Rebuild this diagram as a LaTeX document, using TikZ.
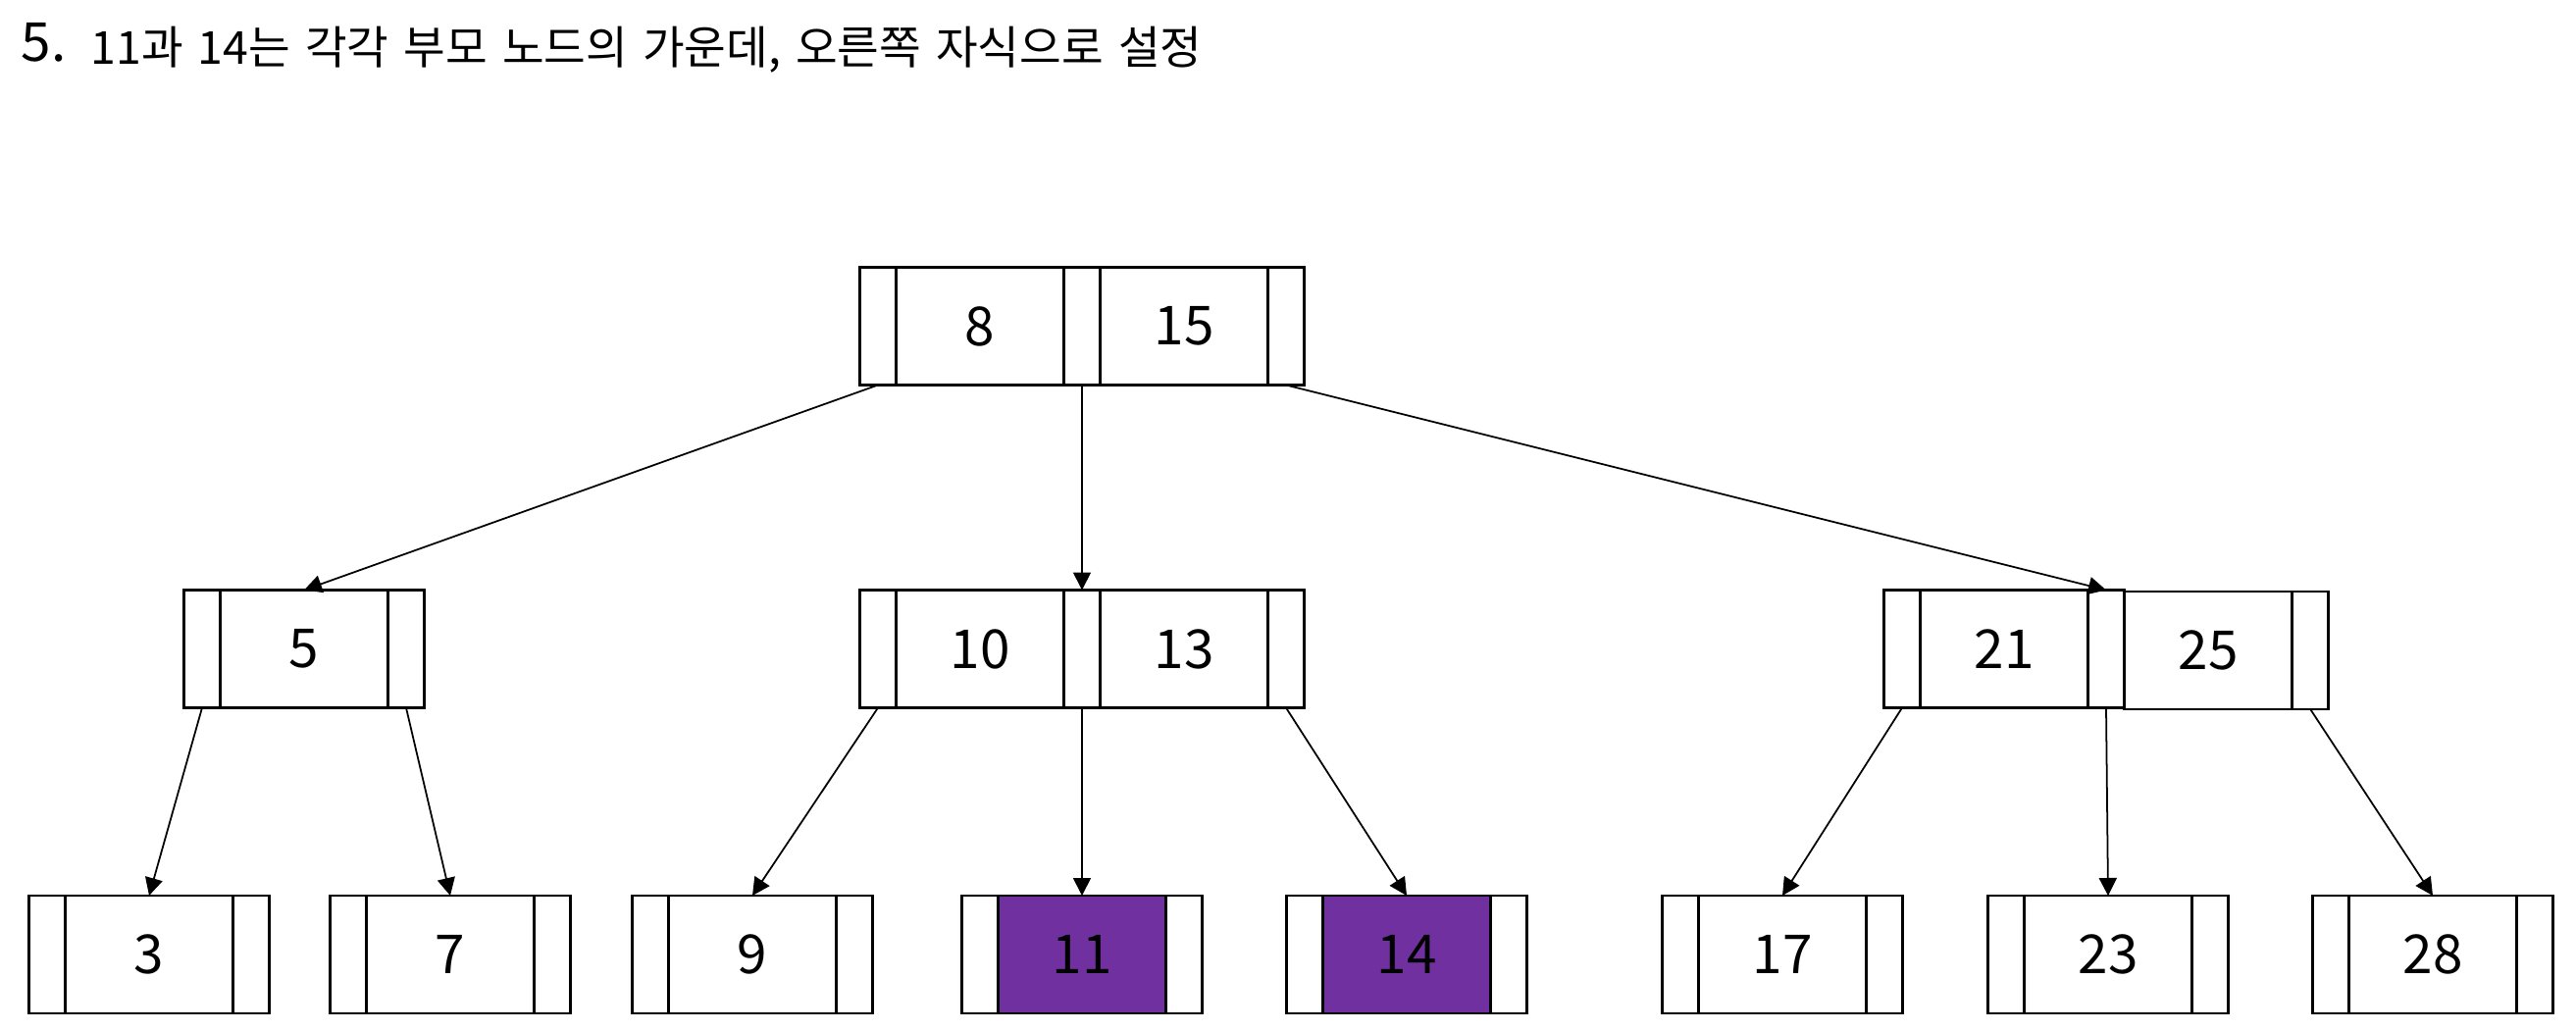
\documentclass[tikz,border=0pt]{standalone}
\usepackage{fontspec}
\setmainfont{Noto Sans CJK KR}
\newfontfamily\headfont{Noto Sans CJK KR}[WordSpace=1.45]
\usepackage{tikz}
\usetikzlibrary{arrows.meta,positioning}
\definecolor{cPick}{HTML}{7030A0}
\tikzset{
  ptr/.style={rectangle, draw=black, line width=0.65pt, minimum width=0.37cm, minimum height=1.2cm, inner sep=0pt, outer sep=0pt},
  key/.style={ptr, minimum width=1.71cm, font=\fontsize{15.6pt}{18pt}\selectfont},
  link/.style={-{Triangle[length=1.8mm, width=1.8mm]}, line width=0.5pt, black},
}

\begin{document}
\begin{tikzpicture}
  \useasboundingbox (0,0) rectangle (26.26,-10.51);
  % title
  \node[anchor=base west, inner sep=0pt, font=\fontsize{15.6pt}{18pt}\selectfont] (num) at (0.21,-0.63) {5.};
  \node[anchor=base west, inner sep=0pt, font=\headfont\fontsize{13.2pt}{15pt}\selectfont] (title) at (0.92,-0.66) {11과 14는 각각 부모 노드의 가운데, 오른쪽 자식으로 설정};
  % root
  \node[ptr] (r-pm) at (11.03,-3.325) {};
  \node[key, left=0pt of r-pm] (r-k8) {8};
  \node[ptr, left=0pt of r-k8] (r-pa) {};
  \node[key, right=0pt of r-pm] (r-k15) {15};
  \node[ptr, right=0pt of r-k15] (r-pb) {};
  % second level
  \node[key] (k5) at (3.10,-6.615) {5};
  \node[ptr, left=0pt of k5] (k5-a) {};
  \node[ptr, right=0pt of k5] (k5-b) {};
  \node[ptr] (mA-pm) at (11.03,-6.615) {};
  \node[key, left=0pt of mA-pm] (k10) {10};
  \node[ptr, left=0pt of k10] (mA-pa) {};
  \node[key, right=0pt of mA-pm] (k13) {13};
  \node[ptr, right=0pt of k13] (mA-pb) {};
  \node[ptr] (mB-pm) at (21.47,-6.615) {};
  \node[key, left=0pt of mB-pm] (k21) {21};
  \node[ptr, left=0pt of k21] (mB-pa) {};
  \node[key, right=0pt of mB-pm, yshift=-0.012cm] (k25) {25};
  \node[ptr, right=0pt of k25] (mB-pb) {};
  % leaves
  \foreach \v/\x/\c in {3/1.52/white, 7/4.59/white, 9/7.67/white, 11/11.03/cPick, 14/14.34/cPick, 17/18.17/white, 23/21.49/white, 28/24.80/white} {
    \node[key, fill=\c] (k\v) at (\x,-9.73) {\v};
    \node[ptr, left=0pt of k\v] (k\v-a) {};
    \node[ptr, right=0pt of k\v] (k\v-b) {};
  }
  \foreach \a/\b in {r-pa/k5, r-pm/mA-pm, r-pb/mB-pm, k5-a/k3, k5-b/k7, mA-pa/k9, mA-pm/k11, mA-pb/k14, mB-pa/k17, mB-pm/k23, mB-pb/k28}
    \draw[link] (\a.south) -- (\b.north);
\end{tikzpicture}
\end{document}
